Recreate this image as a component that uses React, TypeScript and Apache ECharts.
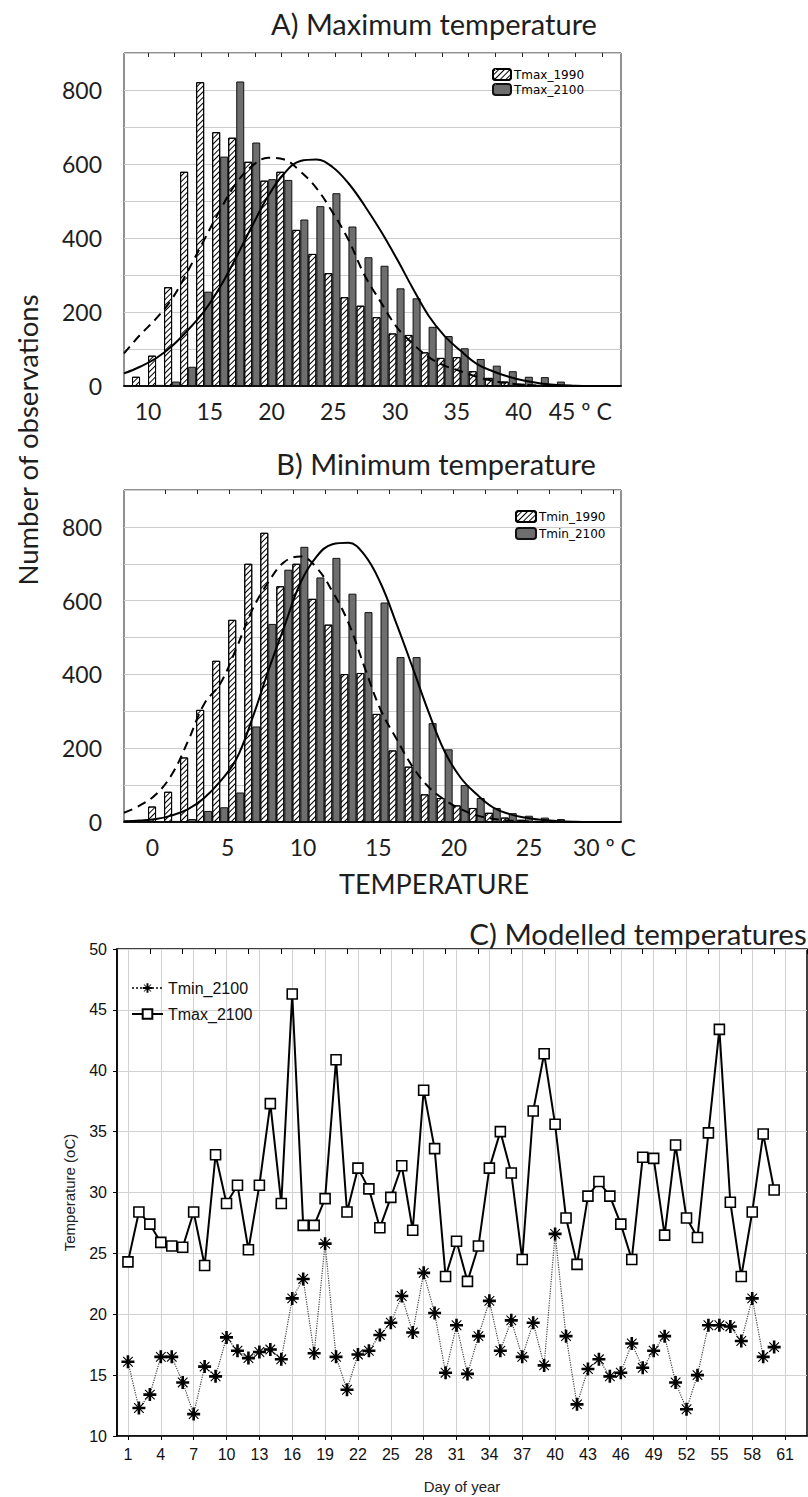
import React, { useEffect, useRef } from 'react';
import * as echarts from 'echarts';

// ---------- Panel A: maximum temperature (bins sit in slots 1..27 of 32 slots) ----------
const slots = Array.from({ length: 32 }, (_, i) => String(i));
const tmax1990 = [25, 82, 267, 579, 821, 686, 671, 606, 555, 579, 422, 357, 305, 240, 217, 186, 142, 138, 91, 76, 78, 40, 22, 12, 6, 3, 1];
const tmax2100 = [0, 3, 12, 52, 255, 620, 823, 658, 559, 557, 450, 486, 521, 431, 348, 325, 264, 237, 160, 135, 102, 73, 55, 40, 25, 24, 12];
const fitA1990 = [88, 138, 182, 236, 312, 395, 476, 548, 595, 617, 612, 580, 535, 470, 395, 300, 228, 160, 115, 78, 55, 40, 25, 14, 7, 3, 1, 0, 0, 0, 0, 0];
const fitA2100 = [34, 52, 75, 108, 152, 202, 268, 348, 433, 514, 575, 608, 612, 592, 548, 488, 420, 345, 265, 190, 135, 95, 60, 40, 25, 14, 7, 3, 1, 0, 0, 0];
const tempTicksA = [10, 15, 20, 25, 30, 35, 40, 45];
// top-border tick marks of the original axis frame (frame units)
const topTicksA = [0.9, 1.9, 2.9, 3.9, 4.9, 5.9, 6.9, 7.9, 8.9, 9.9, 10.9, 11.9, 12.9, 13.9, 14.9, 15.9, 16.9, 17.9];

// ---------- Panel B: minimum temperature (bins sit in slots 2..27) ----------
const tmin1990 = [42, 82, 175, 304, 437, 548, 700, 784, 639, 700, 605, 535, 401, 404, 293, 194, 150, 75, 65, 45, 38, 25, 12, 6, 3, 1];
const tmin2100 = [0, 3, 8, 30, 40, 80, 259, 537, 684, 746, 663, 716, 619, 569, 595, 447, 447, 268, 197, 100, 65, 38, 24, 17, 12, 8];
const fitB1990 = [25, 45, 75, 130, 220, 320, 375, 470, 575, 650, 705, 720, 690, 625, 540, 420, 305, 225, 150, 95, 60, 35, 18, 9, 4, 2, 0, 0, 0, 0, 0, 0];
const fitB2100 = [2, 4, 8, 18, 35, 65, 110, 170, 280, 410, 530, 648, 719, 753, 757, 724, 648, 537, 419, 298, 191, 120, 75, 40, 22, 12, 6, 3, 1, 0, 0, 0];
const tempTicksB = [0, 5, 10, 15, 20, 25, 30];
const topTicksB = [1.28, 2.28, 3.28, 4.28, 5.28, 6.28, 7.28, 8.28, 9.28, 10.28, 11.28, 12.28, 13.28, 14.28, 15.28];

// ---------- Panel C: modelled daily temperatures ----------
const dayCats = Array.from({ length: 64 }, (_, i) => String(i));
const days = [1, 2, 3, 4, 5, 6, 7, 8, 9, 10, 11, 12, 13, 14, 15, 16, 17, 18, 19, 20, 21, 22, 23, 24, 25, 26, 27, 28, 29, 30,
  31, 32, 33, 34, 35, 36, 37, 38, 39, 40, 41, 42, 43, 44, 45, 46, 47, 48, 49, 50, 51, 52, 53, 54, 55, 56, 57, 58, 59, 60];
const tmaxDaily = [24.3, 28.4, 27.4, 25.9, 25.6, 25.5, 28.4, 24.0, 33.1, 29.1, 30.6, 25.3, 30.6, 37.3, 29.1, 46.3, 27.3, 27.3, 29.5, 40.9,
  28.4, 32.0, 30.3, 27.1, 29.6, 32.2, 26.9, 38.4, 33.6, 23.1, 26.0, 22.7, 25.6, 32.0, 35.0, 31.6, 24.5, 36.7, 41.4, 35.6,
  27.9, 24.1, 29.7, 30.9, 29.7, 27.4, 24.5, 32.9, 32.8, 26.5, 33.9, 27.9, 26.3, 34.9, 43.4, 29.2, 23.1, 28.4, 34.8, 30.2];
const tminDaily = [16.1, 12.3, 13.4, 16.5, 16.5, 14.4, 11.8, 15.7, 14.9, 18.1, 17.0, 16.4, 16.9, 17.1, 16.3, 21.3, 22.9, 16.8, 25.8, 16.5,
  13.8, 16.7, 17.0, 18.3, 19.3, 21.5, 18.5, 23.4, 20.1, 15.2, 19.1, 15.1, 18.2, 21.1, 17.0, 19.5, 16.5, 19.3, 15.8, 26.6,
  18.2, 12.6, 15.5, 16.3, 14.9, 15.2, 17.6, 15.6, 17.0, 18.2, 14.4, 12.2, 15.0, 19.1, 19.1, 19.0, 17.8, 21.3, 16.5, 17.3];

const FONT_CAL = 'Lato, "Open Sans", sans-serif';
const FONT_ST = '"Liberation Sans", Arial, sans-serif';
const TXT = '#1e1e1e';

const padBins = (arr: number[], first: number) => {
  const out: (number | null)[] = slots.map(() => null);
  arr.forEach((v, i) => { out[first + i] = v; });
  return out;
};

const hatchDecal = {
  symbol: 'rect', symbolSize: 1, color: '#000',
  dashArrayX: [1, 0], dashArrayY: [1, 3], rotation: -Math.PI / 4,
};

const STAR = 'path://M4,0H6V4H10V6H6V10H4V6H0V4H4Z M1,1.6L1.6,1L9,8.4L8.4,9Z M8.4,1L9,1.6L1.6,9L1,8.4Z';

const yHistAxis = (gridIndex: number) => ({
  gridIndex, type: 'value', min: 0, max: 900, interval: 100,
  axisLine: { show: false }, axisTick: { show: false },
  splitLine: { show: true, lineStyle: { color: '#cdcdcd', width: 1 } },
  axisLabel: {
    margin: 22, fontSize: 23, fontFamily: FONT_CAL, color: TXT,
    formatter: (v: number) => (v % 200 === 0 ? String(v) : ''),
  },
});

const tempAxis = (gridIndex: number, min: number, max: number, ticks: number[], last: number) => ({
  gridIndex, type: 'value', min, max, position: 'bottom',
  axisLine: { show: true, onZero: false, lineStyle: { color: '#111', width: 2 } },
  axisTick: { show: false }, splitLine: { show: false },
  axisLabel: {
    customValues: ticks, margin: 13, fontSize: 23, fontFamily: FONT_CAL, color: TXT,
    showMinLabel: true, showMaxLabel: true,
    formatter: (v: number) => {
      const r = Math.round(v);
      if (Math.abs(v - r) > 1e-6 || r % 5 !== 0) return '';
      return r === last ? r + ' º C' : String(r);
    },
  },
});

const topFrameAxis = (gridIndex: number, max: number, ticks: number[]) => ({
  gridIndex, type: 'value', position: 'top', min: 0, max,
  axisLine: { show: false }, axisLabel: { show: false }, splitLine: { show: false },
  axisTick: { show: true, inside: true, length: 4, customValues: ticks, lineStyle: { color: '#222', width: 1 } },
});

const dayInterval = (index: number) => (index - 1) % 3 === 0;
const topDayInterval = (index: number) => index > 0 && index % 3 === 0;

export default function App() {
  const ref = useRef<HTMLDivElement>(null);
  useEffect(() => {
    if (!ref.current) return;
    const chart = echarts.init(ref.current, null, { renderer: 'svg' });
    const curve = (name: string, xi: number, yi: number, data: number[], dashed: boolean) => ({
      type: 'line', name, xAxisIndex: xi, yAxisIndex: yi, data, smooth: 0.4, symbol: 'none', z: 5,
      lineStyle: { color: '#000', width: 2, type: dashed ? [9, 6] : 'solid' }, silent: true,
    });
    const hatchBar = (name: string, xi: number, yi: number, data: (number | null)[]) => ({
      type: 'bar', name, xAxisIndex: xi, yAxisIndex: yi, data, barWidth: 8, barGap: '0%',
      itemStyle: { color: '#fff', borderColor: '#000', borderWidth: 1, decal: hatchDecal },
    });
    const darkBar = (name: string, xi: number, yi: number, data: (number | null)[]) => ({
      type: 'bar', name, xAxisIndex: xi, yAxisIndex: yi, data, barWidth: 8, barGap: '0%',
      itemStyle: { color: '#6e6e6e', borderColor: '#111', borderWidth: 1 },
    });
    const titleStyle = (text: string, size: number) => ({
      text, fontSize: size, fontFamily: FONT_CAL, fill: TXT,
      textAlign: 'center', textVerticalAlign: 'middle', align: 'center', verticalAlign: 'middle',
    });
    const option: any = {
      animation: false,
      backgroundColor: '#ffffff',
      textStyle: { fontFamily: FONT_ST },
      grid: [
        { left: 124, top: 53, width: 497, height: 333, show: true, borderColor: '#222', borderWidth: 1, backgroundColor: 'transparent', outerBoundsMode: 'none', containLabel: false },
        { left: 124, top: 490, width: 497, height: 332, show: true, borderColor: '#222', borderWidth: 1, backgroundColor: 'transparent', outerBoundsMode: 'none', containLabel: false },
        { left: 117, top: 949, width: 690, height: 487, show: true, borderColor: '#000', borderWidth: 1.5, backgroundColor: 'transparent', outerBoundsMode: 'none', containLabel: false },
      ],
      xAxis: [
        { gridIndex: 0, type: 'category', data: slots, boundaryGap: false, show: false },
        tempAxis(0, 8.05, 48.3, tempTicksA, 45),
        { gridIndex: 1, type: 'category', data: slots, boundaryGap: false, show: false },
        tempAxis(1, -1.88, 31.1, tempTicksB, 30),
        {
          gridIndex: 2, type: 'category', data: dayCats, boundaryGap: false,
          axisLine: { show: true, lineStyle: { color: '#000', width: 1.5 } },
          axisTick: { show: true, interval: dayInterval, length: 4, lineStyle: { color: '#000' } },
          axisLabel: { interval: dayInterval, margin: 10, fontSize: 16, fontFamily: FONT_ST, color: '#111' },
          splitLine: { show: true, interval: dayInterval, lineStyle: { color: '#d2d2d2', width: 1 } },
          name: 'Day of year', nameLocation: 'middle', nameGap: 43,
          nameTextStyle: { fontSize: 15, fontFamily: FONT_ST, color: '#222' },
        },
        topFrameAxis(0, 18.61, topTicksA),
        topFrameAxis(1, 15.53, topTicksB),
        {
          gridIndex: 2, type: 'category', data: dayCats, boundaryGap: false, position: 'top',
          axisLine: { show: false }, axisLabel: { show: false }, splitLine: { show: false },
          axisTick: { show: true, inside: true, length: 5, interval: topDayInterval, lineStyle: { color: '#000' } },
        },
      ],
      yAxis: [
        yHistAxis(0),
        yHistAxis(1),
        {
          gridIndex: 2, type: 'value', min: 10, max: 50, interval: 5,
          axisLine: { show: true, lineStyle: { color: '#000', width: 1.5 } },
          axisTick: { show: true, length: 4, lineStyle: { color: '#000' } },
          splitLine: { show: true, lineStyle: { color: '#d2d2d2', width: 1 } },
          axisLabel: { margin: 10, fontSize: 16, fontFamily: FONT_ST, color: '#111' },
          name: 'Temperature (oC)', nameLocation: 'middle', nameGap: 40, nameRotate: 90,
          nameTextStyle: { fontSize: 15, fontFamily: FONT_ST, color: '#222' },
        },
      ],
      legend: [
        {
          data: ['Tmax_1990', 'Tmax_2100'], orient: 'vertical', left: 492, top: 68, padding: 0,
          itemWidth: 18, itemHeight: 11, itemGap: 2, selectedMode: false,
          textStyle: { fontFamily: '"DejaVu Sans", sans-serif', fontSize: 12, color: '#000', padding: [0, 0, 0, -2] },
        },
        {
          data: ['Tmin_1990', 'Tmin_2100'], orient: 'vertical', left: 515, top: 510, padding: 0,
          itemWidth: 20, itemHeight: 11, itemGap: 4, selectedMode: false,
          textStyle: { fontFamily: '"DejaVu Sans", sans-serif', fontSize: 12, color: '#000', padding: [0, 0, 0, -2] },
        },
        {
          data: ['C_Tmin_2100', 'C_Tmax_2100'], orient: 'vertical', left: 131, top: 980, padding: 0,
          itemWidth: 31, itemHeight: 12, itemGap: 10, selectedMode: false,
          formatter: (n: string) => n.replace('C_', ''),
          textStyle: { fontFamily: FONT_ST, fontSize: 16, color: '#111' },
        },
      ],
      series: [
        hatchBar('Tmax_1990', 0, 0, padBins(tmax1990, 1)),
        darkBar('Tmax_2100', 0, 0, padBins(tmax2100, 1)),
        curve('fitA_1990', 0, 0, fitA1990, true),
        curve('fitA_2100', 0, 0, fitA2100, false),
        hatchBar('Tmin_1990', 2, 1, padBins(tmin1990, 2)),
        darkBar('Tmin_2100', 2, 1, padBins(tmin2100, 2)),
        curve('fitB_1990', 2, 1, fitB1990, true),
        curve('fitB_2100', 2, 1, fitB2100, false),
        {
          type: 'line', name: 'C_Tmin_2100', xAxisIndex: 4, yAxisIndex: 2,
          data: tminDaily.map((v, i) => [String(days[i]), v]),
          symbol: STAR, symbolSize: 13, showAllSymbol: true, itemStyle: { color: '#000' },
          lineStyle: { color: '#444', width: 1.2, type: 'dotted' }, z: 3,
        },
        {
          type: 'line', name: 'C_Tmax_2100', xAxisIndex: 4, yAxisIndex: 2,
          data: tmaxDaily.map((v, i) => [String(days[i]), v]),
          symbol: 'rect', symbolSize: 10, showAllSymbol: true,
          itemStyle: { color: '#fff', borderColor: '#000', borderWidth: 1.6 },
          lineStyle: { color: '#000', width: 2 }, z: 4,
        },
      ],
      graphic: {
        elements: [
          { type: 'text', x: 434, y: 23, style: titleStyle('A) Maximum temperature', 29) },
          { type: 'text', x: 436, y: 463, style: titleStyle('B) Minimum temperature', 29) },
          { type: 'text', x: 434, y: 883, style: titleStyle('TEMPERATURE', 27) },
          { type: 'text', x: 27, y: 440, rotation: Math.PI / 2, style: titleStyle('Number of observations', 27.5) },
          { type: 'text', x: 638, y: 933, style: titleStyle('C) Modelled temperatures', 29.5) },
        ],
      },
    };
    chart.setOption(option);
    return () => { chart.dispose(); };
  }, []);
  return (
    <div
      ref={ref}
      style={{ position: 'fixed', left: 0, top: 0, width: 808, height: 1497, background: '#fff' }}
    />
  );
}
